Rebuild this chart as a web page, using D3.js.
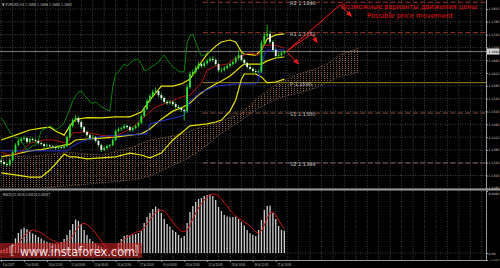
<!DOCTYPE html>
<html>
<head>
<meta charset="utf-8">
<script src="https://cdn.jsdelivr.net/npm/d3@7"></script>
<style>
html, body { margin: 0; padding: 0; background: #000; }
svg { display: block; }
text { font-family: "DejaVu Sans", sans-serif; }
</style>
</head>
<body>
<svg width="500" height="268"></svg>
<script>
// ---- data (EURUSD H4) ----
const open  = [1.1352,1.1347,1.1341,1.1338,1.1353,1.1378,1.1400,1.1413,1.1419,1.1422,
  1.1410,1.1419,1.1416,1.1413,1.1406,1.1403,1.1397,1.1399,1.1396,1.1394,
  1.1391,1.1394,1.1392,1.1397,1.1425,1.1460,1.1478,1.1485,1.1472,1.1456,
  1.1441,1.1431,1.1422,1.1424,1.1413,1.1400,1.1385,1.1391,1.1397,1.1400,
  1.1416,1.1444,1.1450,1.1453,1.1460,1.1456,1.1447,1.1453,1.1460,1.1469,
  1.1491,1.1513,1.1538,1.1553,1.1566,1.1569,1.1556,1.1547,1.1535,1.1531,
  1.1535,1.1528,1.1519,1.1516,1.1510,1.1506,1.1581,1.1622,1.1628,1.1641,
  1.1653,1.1647,1.1656,1.1663,1.1669,1.1666,1.1653,1.1634,1.1634,1.1641,
  1.1647,1.1653,1.1659,1.1672,1.1681,1.1666,1.1656,1.1644,1.1638,1.1631,
  1.1628,1.1630,1.1719,1.1741,1.1747,1.1722,1.1697,1.1678,1.1681,1.1688]
const high  = [1.1358,1.1351,1.1346,1.1358,1.1385,1.1406,1.1419,1.1425,1.1428,1.1426,
  1.1423,1.1424,1.1420,1.1417,1.1411,1.1407,1.1404,1.1403,1.1400,1.1398,
  1.1399,1.1398,1.1401,1.1430,1.1466,1.1484,1.1494,1.1490,1.1477,1.1461,
  1.1447,1.1436,1.1432,1.1428,1.1418,1.1405,1.1396,1.1401,1.1404,1.1421,
  1.1449,1.1456,1.1458,1.1465,1.1464,1.1461,1.1457,1.1464,1.1474,1.1496,
  1.1518,1.1544,1.1560,1.1573,1.1580,1.1574,1.1562,1.1552,1.1541,1.1540,
  1.1539,1.1533,1.1525,1.1521,1.1515,1.1590,1.1630,1.1636,1.1647,1.1660,
  1.1659,1.1662,1.1669,1.1676,1.1678,1.1671,1.1658,1.1642,1.1647,1.1652,
  1.1658,1.1664,1.1677,1.1697,1.1688,1.1671,1.1661,1.1650,1.1643,1.1637,
  1.1636,1.1726,1.1750,1.1775,1.1758,1.1728,1.1702,1.1690,1.1694,1.1696]
const low   = [1.1340,1.1336,1.1332,1.1335,1.1348,1.1374,1.1396,1.1408,1.1414,1.1405,
  1.1406,1.1411,1.1408,1.1401,1.1399,1.1392,1.1393,1.1391,1.1389,1.1385,
  1.1387,1.1388,1.1389,1.1393,1.1420,1.1455,1.1472,1.1465,1.1450,1.1436,
  1.1426,1.1416,1.1418,1.1408,1.1394,1.1378,1.1381,1.1386,1.1392,1.1396,
  1.1412,1.1439,1.1444,1.1449,1.1451,1.1441,1.1443,1.1449,1.1456,1.1465,
  1.1487,1.1509,1.1533,1.1548,1.1559,1.1550,1.1541,1.1530,1.1526,1.1527,
  1.1522,1.1513,1.1511,1.1504,1.1478,1.1500,1.1575,1.1615,1.1622,1.1636,
  1.1640,1.1642,1.1651,1.1658,1.1660,1.1648,1.1628,1.1627,1.1630,1.1636,
  1.1642,1.1648,1.1654,1.1665,1.1660,1.1650,1.1639,1.1633,1.1626,1.1623,
  1.1624,1.1625,1.1712,1.1735,1.1715,1.1690,1.1670,1.1672,1.1675,1.1684]
const close = [1.1347,1.1341,1.1338,1.1353,1.1378,1.1400,1.1413,1.1419,1.1422,1.1410,
  1.1419,1.1416,1.1413,1.1406,1.1403,1.1397,1.1399,1.1396,1.1394,1.1391,
  1.1394,1.1392,1.1397,1.1425,1.1460,1.1478,1.1485,1.1472,1.1456,1.1441,
  1.1431,1.1422,1.1424,1.1413,1.1400,1.1385,1.1391,1.1397,1.1400,1.1416,
  1.1444,1.1450,1.1453,1.1460,1.1456,1.1447,1.1453,1.1460,1.1469,1.1491,
  1.1513,1.1538,1.1553,1.1566,1.1569,1.1556,1.1547,1.1535,1.1531,1.1535,
  1.1528,1.1519,1.1516,1.1510,1.1506,1.1581,1.1622,1.1628,1.1641,1.1653,
  1.1647,1.1656,1.1663,1.1669,1.1666,1.1653,1.1634,1.1634,1.1641,1.1647,
  1.1653,1.1659,1.1672,1.1681,1.1666,1.1656,1.1644,1.1638,1.1631,1.1628,
  1.1630,1.1719,1.1741,1.1747,1.1722,1.1697,1.1678,1.1681,1.1688,1.1692]

// Bollinger bands (20,2), sampled by bar
const bbBars   = [0,5,10,14,17,19,22,24,26,30,35,40,45,49,52,56,60,63,66,69,72,75,77,80,82,84,85,89,91,93,96,99]
const bbUpper  = [1.1416,1.1431,1.1447,1.1453,1.1456,1.1444,1.1431,1.1460,1.1480,1.1486,1.1485,1.1488,1.1488,1.1503,1.1541,1.1584,
  1.1584,1.1591,1.1606,1.1647,1.1684,1.1709,1.1722,1.1728,1.1722,1.1691,1.1684,1.1681,1.1697,1.1731,1.1744,1.1747]
const bbMiddle = [1.1363,1.1372,1.1382,1.1386,1.1391,1.1394,1.1400,1.1403,1.1416,1.1419,1.1422,1.1425,1.1431,1.1435,1.1450,1.1481,
  1.1506,1.1516,1.1531,1.1556,1.1575,1.1591,1.1600,1.1616,1.1631,1.1647,1.1653,1.1653,1.1653,1.1663,1.1672,1.1675]
const bbLower  = [1.1313,1.1307,1.1300,1.1300,1.1322,1.1341,1.1372,1.1363,1.1363,1.1357,1.1360,1.1363,1.1375,1.1369,1.1360,1.1375,
  1.1416,1.1438,1.1460,1.1463,1.1466,1.1472,1.1478,1.1506,1.1541,1.1606,1.1622,1.1622,1.1613,1.1594,1.1597,1.1606]

// Ichimoku
const tenkanBars = [0,3,7,10,15,18,23,25,29,35,39,43,46,50,54,59,63,66,70,72,75,79,82,87,90,92,96,99]
const tenkan     = [1.1378,1.1369,1.1378,1.1406,1.1416,1.1416,1.1406,1.1438,1.1441,1.1431,1.1425,1.1441,1.1456,1.1488,
  1.1519,1.1535,1.1550,1.1556,1.1594,1.1634,1.1647,1.1653,1.1672,1.1688,1.1681,1.1712,1.1712,1.1703]
const kijunBars = [0,23,25,28,32,36,51,52,56,62,64,65,66,70,75,82,89,90,91,92,93,99]
const kijun     = [1.1382,1.1382,1.1397,1.1410,1.1422,1.1428,1.1435,1.1466,1.1475,1.1488,1.1494,1.1516,1.1538,1.1566,
  1.1584,1.1591,1.1591,1.1603,1.1650,1.1681,1.1697,1.1697]
const cloudBars = [0,10,23,35,46,52,58,64,70,76,84,90,97,104,110,115,118,125]
const spanA     = [1.1369,1.1363,1.1378,1.1369,1.1394,1.1416,1.1425,1.1438,1.1456,1.1472,1.1500,1.1550,1.1594,1.1622,1.1638,1.1659,1.1681,1.1703]
const spanB     = [1.1260,1.1263,1.1272,1.1282,1.1291,1.1303,1.1328,1.1353,1.1385,1.1431,1.1478,1.1516,1.1547,1.1563,1.1578,1.1600,1.1613,1.1628]
const chikouShift = 26

// pivot levels
const pivotNames  = ['R2','R1','P','S1','S2']
const pivotValues = [1.1846,1.1751,1.1595,1.1500,1.1344]
const pivotFromBar = 70.5
const pivotLabelBar = 101

// MACD(12,26,9), in units of 0.0001
const macdMain = [3,4,5,7,9,14.7,20,23.7,25.3,24,
  21.5,19.5,18,16,14.5,12.5,11,10.3,9.8,9,
  9.3,11,14,18,23,29,33.5,32,29,23,
  18,14,11.5,9.5,7.5,6,3.5,1.5,-0.5,0.5,
  4,10,14,17,18,18,18.5,19,20,22,
  30,36,40,44,46.5,44,40,34,29,26.5,
  23,21,18,15,17,30,41,47,51,54,
  55,57,58,58.7,57,53,46,42,38,36.5,
  35.7,36,36.3,34,31,27.5,23,19.7,18,17,
  23,33,43,47,47.3,40,34,27,23,22.3]
const macdSignal = [1,1.5,2,2,4,6,9,13,17,20,
  22,23,22.5,21.5,20,18,16,14,12.5,11,
  10,9.7,10,11,13,17,22,26,29,29.7,
  28.5,26.5,23.5,20,16,12,8,4.5,2,1.3,
  3,7,11,14,16,17.5,19,20.5,21.5,22.5,
  25,29,33,37,40.5,42.5,43,42,39,35,
  31,27,24,21.5,21.3,23,28,34,40,45,
  49.5,53,56,58,59,58.5,57,54,50.5,47,
  43,39.7,37,35,33,31,29,27,24,21,
  19.7,22,28,35,40,41.3,38,33,28,24.7]

// axes
const priceTicks = [1.1825,1.1785,1.1745,1.1705,1.1665,1.1625,1.1585,1.1545,1.1505,1.1465,1.1425,1.1385,1.1345,1.1305,1.1265]
const timeBars   = [0,8,16,24,32,40,48,56,64,72,80,88,96]
const timeText   = ['5 Jul 2017','7 Jul 04:00','10 Jul 12:00','11 Jul 20:00','13 Jul 04:00','14 Jul 12:00','17 Jul 20:00',
  '19 Jul 04:00','20 Jul 12:00','21 Jul 20:00','25 Jul 04:00','26 Jul 12:00','27 Jul 20:00']
const macdTicks = [62, 0, -7]

// annotation arrows [bar, price]
const arrowPaths = [
  [[100,1.1694],[118.5,1.1838],[122.5,1.1802]],
  [[100,1.1694],[108.5,1.1747],[110.5,1.1720]],
  [[100,1.1690],[104,1.1653]]
]
const noteRu = 'Возможные варианты движения цены'
const noteEn = 'Possible price movement'

// ---- layout ----
const W = 500, H = 268
const plotR = 486, mainB = 188, macdT = 191, macdB = 260

const svg = d3.select('svg')
svg.append('rect').attr('width', W).attr('height', H).attr('fill', '#000')

const x  = d3.scaleLinear().domain([0, 100]).range([1.2, 287.2])
const y  = d3.scaleLinear().domain([1.1266, 1.1853]).range([mainB, 0])
const ym = d3.scaleLinear().domain([-7, 62]).range([macdB, macdT])

const defs = svg.append('defs')
defs.append('clipPath').attr('id', 'clipMain')
  .append('rect').attr('x', 0).attr('y', 0).attr('width', plotR).attr('height', mainB)
defs.append('clipPath').attr('id', 'clipMacd')
  .append('rect').attr('x', 0).attr('y', macdT).attr('width', plotR).attr('height', macdB - macdT)
// cloud hatch: dotted vertical columns
const pat = defs.append('pattern').attr('id', 'hatch')
  .attr('patternUnits', 'userSpaceOnUse').attr('width', 3).attr('height', 2)
pat.append('rect').attr('width', 1).attr('height', 1).attr('fill', '#8a5c3a')
defs.append('marker').attr('id', 'arrow')
  .attr('viewBox', '0 0 10 10').attr('refX', 9).attr('refY', 5)
  .attr('markerWidth', 6).attr('markerHeight', 6).attr('orient', 'auto')
  .append('path').attr('d', 'M0,1 L10,5 L0,9 Z').attr('fill', '#ff1a1a')

// grid
const gridBars = d3.range(0, 170, 4)
const grid = svg.append('g').attr('stroke', '#505050').attr('stroke-width', 0.8).attr('stroke-dasharray', '1,1.5')
grid.selectAll('.vm').data(gridBars).join('line')
  .attr('x1', d => x(d)).attr('x2', d => x(d)).attr('y1', 0).attr('y2', mainB)
grid.selectAll('.vb').data(gridBars).join('line')
  .attr('x1', d => x(d)).attr('x2', d => x(d)).attr('y1', macdT).attr('y2', macdB)
grid.selectAll('.h').data(priceTicks).join('line')
  .attr('x1', 0).attr('x2', plotR).attr('y1', d => y(d)).attr('y2', d => y(d))
grid.append('line').attr('x1', 0).attr('x2', plotR).attr('y1', ym(0)).attr('y2', ym(0))

// ---- main panel ----
const gMain = svg.append('g').attr('clip-path', 'url(#clipMain)')

const cloud = cloudBars.map((b, i) => ({ bar: b, a: spanA[i], b2: spanB[i] }))
gMain.append('path').datum(cloud)
  .attr('d', d3.area().x(d => x(d.bar)).y0(d => y(d.b2)).y1(d => y(d.a)))
  .attr('fill', 'url(#hatch)')
gMain.append('path').datum(cloud)
  .attr('d', d3.line().x(d => x(d.bar)).y(d => y(d.a)))
  .attr('fill', 'none').attr('stroke', '#94643f').attr('stroke-width', 0.8).attr('stroke-dasharray', '1,1')
gMain.append('path').datum(cloud)
  .attr('d', d3.line().x(d => x(d.bar)).y(d => y(d.b2)))
  .attr('fill', 'none').attr('stroke', '#7e6262').attr('stroke-width', 0.8).attr('stroke-dasharray', '1,1')

// pivots
const pivotColor = { R2: '#9a3626', R1: '#9a3626', P: '#8f7f14', S1: '#86503e', S2: '#8a6670' }
pivotNames.forEach((n, i) => {
  gMain.append('line')
    .attr('x1', x(pivotFromBar)).attr('x2', plotR)
    .attr('y1', y(pivotValues[i])).attr('y2', y(pivotValues[i]))
    .attr('stroke', pivotColor[n]).attr('stroke-width', 1)
    .attr('stroke-dasharray', n === 'P' ? null : '5,2.5')
  gMain.append('text')
    .attr('x', x(pivotLabelBar)).attr('y', y(pivotValues[i]) + 3.2)
    .attr('font-size', 5).attr('fill', '#c4c4c4')
    .text(n + ' ' + pivotValues[i].toFixed(4))
})

// bid line
gMain.append('line').attr('x1', 0).attr('x2', plotR)
  .attr('y1', y(close[close.length - 1])).attr('y2', y(close[close.length - 1]))
  .attr('stroke', '#8a8a8a').attr('stroke-width', 0.9)

const lineOf = (bars, vals) => d3.line().x(d => x(d[0])).y(d => y(d[1]))(bars.map((b, i) => [b, vals[i]]))

;[bbUpper, bbMiddle, bbLower].forEach(v => {
  gMain.append('path').attr('d', lineOf(bbBars, v))
    .attr('fill', 'none').attr('stroke', '#e4e400').attr('stroke-width', 1.2)
})
gMain.append('path').attr('d', lineOf(kijunBars, kijun))
  .attr('fill', 'none').attr('stroke', '#2233d8').attr('stroke-width', 1)
gMain.append('path').attr('d', lineOf(tenkanBars, tenkan))
  .attr('fill', 'none').attr('stroke', '#b01212').attr('stroke-width', 1)

// chikou span: closes drawn 26 bars back
const chikou = close.map((c, i) => [i - chikouShift, c]).filter(d => d[0] >= 0)
gMain.append('path').datum(chikou)
  .attr('d', d3.line().x(d => x(d[0])).y(d => y(d[1])))
  .attr('fill', 'none').attr('stroke', '#0c800c').attr('stroke-width', 1)

// candles
const candle = gMain.append('g').selectAll('g').data(d3.range(close.length)).join('g')
candle.append('line')
  .attr('x1', i => x(i)).attr('x2', i => x(i))
  .attr('y1', i => y(high[i])).attr('y2', i => y(low[i]))
  .attr('stroke', '#22c422').attr('stroke-width', 0.9)
candle.append('rect')
  .attr('x', i => x(i) - 0.9).attr('width', 1.8)
  .attr('y', i => y(Math.max(open[i], close[i])))
  .attr('height', i => Math.max(0.7, Math.abs(y(open[i]) - y(close[i]))))
  .attr('fill', i => close[i] >= open[i] ? '#30e030' : '#f2f2f2')

// arrows and note
arrowPaths.forEach(p => {
  svg.append('path').datum(p)
    .attr('d', d3.line().x(d => x(d[0])).y(d => y(d[1])))
    .attr('fill', 'none').attr('stroke', '#ff1a1a').attr('stroke-width', 1)
    .attr('marker-end', 'url(#arrow)')
})
svg.append('text').attr('x', 409).attr('y', 9.2).attr('text-anchor', 'middle')
  .attr('font-size', 7.2).attr('fill', '#e81010')
  .attr('textLength', 136).attr('lengthAdjust', 'spacingAndGlyphs').text(noteRu)
svg.append('text').attr('x', 410).attr('y', 18.3).attr('text-anchor', 'middle')
  .attr('font-size', 7.2).attr('fill', '#e81010')
  .attr('textLength', 86).attr('lengthAdjust', 'spacingAndGlyphs').text(noteEn)

// header
svg.append('text').attr('x', 2).attr('y', 5.5).attr('font-size', 4).attr('fill', '#bdbdbd')
  .attr('textLength', 70).attr('lengthAdjust', 'spacingAndGlyphs')
  .text('▼ EURUSD,H4  1.1688 1.1696 1.1684 1.1692')

// ---- MACD panel ----
const gMacd = svg.append('g').attr('clip-path', 'url(#clipMacd)')
gMacd.selectAll('rect').data(macdMain).join('rect')
  .attr('x', (d, i) => x(i) - 0.65).attr('width', 1.3)
  .attr('y', d => ym(Math.max(d, 0)))
  .attr('height', d => Math.abs(ym(d) - ym(0)))
  .attr('fill', '#cfcfcf')
gMacd.append('path').datum(macdSignal)
  .attr('d', d3.line().x((d, i) => x(i)).y(d => ym(d)))
  .attr('fill', 'none').attr('stroke', '#c81414').attr('stroke-width', 1)

svg.append('text').attr('x', 3).attr('y', 196).attr('font-size', 4).attr('fill', '#c8c8c8')
  .attr('textLength', 47).attr('lengthAdjust', 'spacingAndGlyphs')
  .text('MACD(12,26,9) 0.00223 0.00247')

// watermark
const wm = svg.append('g')
wm.append('rect').attr('x', 0).attr('y', 243).attr('width', 142).attr('height', 15)
  .attr('fill', '#c42222').attr('opacity', 0.6)
wm.append('text').attr('x', 20).attr('y', 255.5).attr('font-family', '"Liberation Sans", Arial, sans-serif')
  .attr('font-size', 11.4).attr('fill', '#ffffff').attr('opacity', 0.85)
  .text('www.instaforex.com')
wm.append('text').attr('x', 10).attr('y', 255).attr('font-size', 12).attr('fill', '#dddddd').attr('opacity', 0.7).text('[')
wm.append('text').attr('x', 134).attr('y', 255).attr('font-size', 12).attr('fill', '#dddddd').attr('opacity', 0.7).text(']')

// ---- frame ----
svg.append('rect').attr('x', 0).attr('y', mainB + 0.5).attr('width', W).attr('height', 2).attr('fill', '#9a9a9a')
svg.append('line').attr('x1', plotR + 0.5).attr('x2', plotR + 0.5).attr('y1', 0).attr('y2', macdB)
  .attr('stroke', '#9a9a9a').attr('stroke-width', 1)
svg.append('line').attr('x1', 0).attr('x2', plotR + 1).attr('y1', macdB + 0.5).attr('y2', macdB + 0.5)
  .attr('stroke', '#9a9a9a').attr('stroke-width', 1)

// price axis (small labels so they fit the narrow strip)
svg.append('g').attr('transform', `translate(${plotR},0)`)
  .call(d3.axisRight(y).tickValues(priceTicks).tickFormat(d3.format('.4f')).tickSize(2).tickPadding(0.6))
  .call(g => g.select('.domain').remove())
  .call(g => g.selectAll('line').attr('stroke', '#9a9a9a'))
  .call(g => g.selectAll('text').attr('fill', '#c8c8c8').attr('font-size', 3.1)
    .attr('dy', d => d === 1.1265 ? '-0.1em' : '0.32em'))

// current price box
const last = close[close.length - 1]
svg.append('rect').attr('x', plotR + 1).attr('y', y(last) - 3).attr('width', W - plotR - 1.5).attr('height', 6).attr('fill', '#d4d4d4')
svg.append('text').attr('x', plotR + 2.6).attr('y', y(last) + 1.1)
  .attr('font-size', 3.1).attr('fill', '#000').text(d3.format('.4f')(last))

// MACD axis
svg.append('g').attr('transform', `translate(${plotR},0)`)
  .call(d3.axisRight(ym).tickValues(macdTicks).tickFormat(d => d === 0 ? '0.00' : d3.format('.4f')(d / 10000)).tickSize(2).tickPadding(0.6))
  .call(g => g.select('.domain').remove())
  .call(g => g.selectAll('line').attr('stroke', '#9a9a9a'))
  .call(g => g.selectAll('text').attr('fill', '#c8c8c8')
    .attr('font-size', d => d < 0 ? 2.5 : 3.1)
    .attr('dy', d => d === 62 ? '1.2em' : (d < 0 ? '0em' : '0.32em')))

// time axis
svg.append('g').attr('transform', `translate(0,${macdB})`)
  .call(d3.axisBottom(x).tickValues(timeBars).tickFormat((d, i) => timeText[i]).tickSize(2).tickPadding(1))
  .call(g => g.select('.domain').remove())
  .call(g => g.selectAll('line').attr('stroke', '#9a9a9a'))
  .call(g => g.selectAll('text').attr('fill', '#c8c8c8').attr('font-size', 4)
    .attr('text-anchor', 'start').attr('dx', 1)
    .attr('textLength', d => timeText[timeBars.indexOf(d)].length * 1.15)
    .attr('lengthAdjust', 'spacingAndGlyphs'))
</script>
</body>
</html>
